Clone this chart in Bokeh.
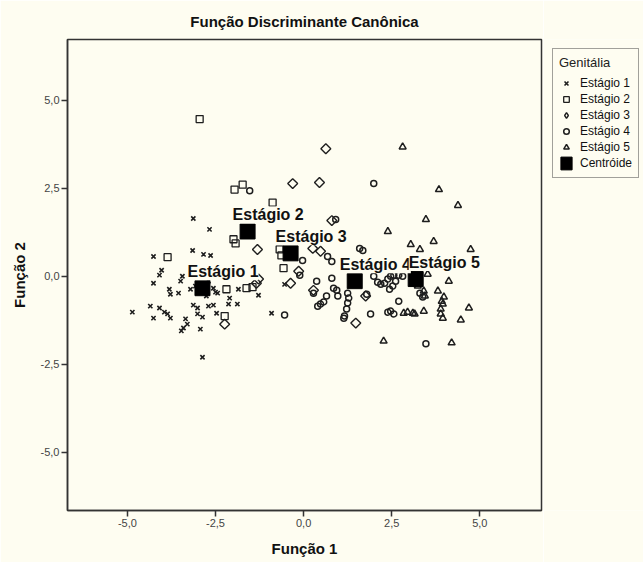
import numpy as np
from bokeh.plotting import figure
from bokeh.layouts import row
from bokeh.models import (ColumnDataSource, Legend, LegendItem, FixedTicker,
                          CustomJSTickFormatter, Range1d)
from bokeh.core.properties import value
from bokeh.embed import file_html
from bokeh.resources import INLINE

# ---------------- data ----------------
s1_x = [-3.13, -2.67, -4.26, -3.15, -2.84, -2.64, -4.03, -4.09, -3.44, -3.49, -4.26, -3.81,
        -3.78, -3.55, -3.21, -2.56, -2.50, -1.85, -2.10, -2.13, -1.88, -2.76, -4.86, -4.35,
        -4.09, -3.95, -3.86, -3.78, -4.26, -3.13, -3.01, -2.70, -2.56, -3.01, -2.87, -2.47,
        -3.35, -3.30, -3.41, -3.47, -2.93, -2.87, -1.28, -0.91, -2.44, -0.54, -3.07, -2.70]
s1_y = [1.64, 1.33, 0.56, 0.73, 0.62, 0.59, 0.17, 0.03, 0.00, -0.14, -0.20, -0.37,
        -0.51, -0.48, -0.37, -0.34, -0.45, -0.37, -0.62, -0.79, -0.79, -0.56, -1.02, -0.85,
        -0.90, -1.02, -1.07, -1.19, -1.19, -0.82, -0.90, -0.85, -0.82, -1.07, -1.16, -1.05,
        -1.21, -1.36, -1.47, -1.55, -1.50, -2.30, -0.54, -1.05, -0.48, -0.23, -0.28, -0.14]

s2_x = [-2.95, -1.96, -1.73, -1.99, -1.93, -3.86, -2.19, -1.62, -2.24, -0.88, -0.63, -0.57, -1.45, -0.68]
s2_y = [4.46, 2.46, 2.60, 1.05, 0.93, 0.54, -0.37, -0.34, -1.13, 2.09, 0.59, 0.23, -0.31, 0.76]

s3_x = [0.63, -0.31, 0.45, -1.31, 0.26, 0.48, -0.14, -1.34, -1.28, -0.37, -2.24, 1.48, 1.76, 0.80, 0.28]
s3_y = [3.62, 2.63, 2.66, 0.76, 0.79, 0.71, 0.14, -0.20, -0.08, -0.20, -1.36, -1.33, -0.56, 1.58, -0.40]

s4_x = [-1.53, 1.99, 0.91, 1.59, 1.68, -0.03, 0.68, 0.80, -0.11, 0.80, 0.37, 0.28, 0.85, 0.94,
        0.97, 0.65, 0.40, 0.48, 0.57, -0.54, 1.25, 1.28, 1.25, 1.22, 1.16, 1.79, 1.99, 2.10,
        2.19, 2.30, 2.39, 2.47, 2.56, 2.61, 2.53, 2.44, 2.70, 2.81, 1.90, 2.70, 2.47, 2.56,
        2.39, 1.14, 3.47, 3.30, 3.38]
s4_y = [2.43, 2.63, 1.61, 0.79, 0.73, 0.45, 0.56, 0.42, 0.03, -0.06, -0.14, -0.48, -0.34, -0.40,
        -0.56, -0.56, -0.85, -0.79, -0.73, -1.10, -0.48, -0.62, -0.76, -0.93, -1.13, -0.51, 0.00, -0.17,
        -0.23, -0.20, -0.08, 0.00, 0.03, -0.14, -0.28, -0.37, 0.03, 0.00, -1.07, -0.71, -0.99, -1.07,
        -1.02, -1.19, -1.92, -0.48, -0.59]

s5_x = [2.81, 3.84, 4.38, 3.47, 2.39, 3.04, 3.30, 3.69, 3.52, 4.12, 3.24, 3.41, 3.81, 3.98, 3.92,
        3.95, 3.44, 4.69, 3.89, 3.89, 3.95, 4.46, 3.41, 2.84, 2.95, 3.10, 3.15, 2.27, 4.20, 4.74]
s5_y = [3.67, 2.46, 2.01, 1.61, 1.27, 0.90, 0.76, 0.99, 0.06, -0.14, -0.28, -0.42, -0.42, -0.59, -0.71,
        -0.79, -0.56, -0.90, -0.93, -1.07, -1.19, -1.24, -0.99, -1.05, -1.02, -1.05, -1.07, -1.84, -1.89, 0.76]

groups = ["Estágio 1", "Estágio 2", "Estágio 3", "Estágio 4", "Estágio 5"]
centroid_x = [-2.87, -1.59, -0.37, 1.45, 3.18]
centroid_y = [-0.34, 1.27, 0.65, -0.14, -0.08]

ticks = [-5.0, -2.5, 0.0, 2.5, 5.0]

# ---------------- styles ----------------
BG = "#FEFDF1"
INK = "#1e1e1e"
FONT = "Liberation Sans"
label_dx = [-15, -15, -15, -15, -7]

series = [(s1_x, s1_y, dict(marker="x", size=6, line_width=1.6, line_color=INK)),
          (s2_x, s2_y, dict(marker="square", size=7, line_width=1.3, line_color=INK, fill_color=None)),
          (s3_x, s3_y, dict(marker="square", size=7, angle=np.pi / 4, line_width=1.4,
                            line_color=INK, fill_color=None)),
          (s4_x, s4_y, dict(marker="circle", size=6, line_width=1.5, line_color=INK, fill_color=None)),
          (s5_x, s5_y, dict(marker="triangle", size=7, line_width=1.5, line_color=INK, fill_color=None))]
centroid_style = dict(width=15, height=15, width_units="screen", height_units="screen",
                      fill_color="black", line_color="black")

p = figure(width=543, height=562,
           x_range=Range1d(-6.7, 6.75), y_range=Range1d(-6.65, 6.72),
           output_backend="svg", toolbar_location=None,
           min_border_left=67, min_border_right=2, min_border_top=37, min_border_bottom=52,
           background_fill_color=BG, border_fill_color=BG,
           outline_line_color="#333333", outline_line_width=1.5)

p.title.text = "Função Discriminante Canônica"
p.title.align = "center"
p.title.text_font = FONT
p.title.text_font_size = "15px"
p.title.text_font_style = "bold"
p.title.text_color = "#111111"
p.title.standoff = 20

p.xgrid.visible = False
p.ygrid.visible = False

fmt = CustomJSTickFormatter(code="return tick.toFixed(1).replace('.', ',')")
for ax, lab in ((p.xaxis[0], "Função 1"), (p.yaxis[0], "Função 2")):
    ax.ticker = FixedTicker(ticks=ticks)
    ax.formatter = fmt
    ax.axis_label = lab
    ax.axis_label_text_font = FONT
    ax.axis_label_text_font_size = "15px"
    ax.axis_label_text_font_style = "bold"
    ax.axis_label_text_color = "#111111"
    ax.major_label_text_font = FONT
    ax.major_label_text_font_size = "11px"
    ax.major_label_text_color = "#444444"
    ax.major_tick_in = 0
    ax.major_tick_out = 6
    ax.major_tick_line_width = 1.5
    ax.major_tick_line_color = "#333333"
    ax.minor_tick_line_color = None
    ax.axis_line_color = "#333333"
    ax.axis_line_width = 1.5
    ax.major_label_standoff = 2
    ax.axis_label_standoff = 10
p.yaxis[0].major_label_orientation = "horizontal"

for xs, ys, st in series:
    p.scatter(xs, ys, **st)
p.rect(centroid_x, centroid_y, **centroid_style)

lab_src = ColumnDataSource(dict(x=centroid_x, y=centroid_y, t=groups, dx=label_dx))
p.text(x="x", y="y", text="t", source=lab_src, x_offset="dx", y_offset=-8,
       text_font=value(FONT), text_font_style="bold", text_font_size="16px",
       text_color="#111111", text_baseline="bottom", text_align="left",
       background_fill_color=BG, padding=0)

# ---------------- legend panel (separate canvas to the right) ----------------
# its ranges lie away from the data, so only the legend swatches show here
pl = figure(width=100, height=562, x_range=Range1d(20, 21), y_range=Range1d(20, 21),
            output_backend="svg", toolbar_location=None,
            x_axis_location=None, y_axis_location=None,
            min_border_left=0, min_border_right=0, min_border_top=19, min_border_bottom=0,
            background_fill_color=BG, border_fill_color=BG, outline_line_color=None)
pl.xgrid.visible = False
pl.ygrid.visible = False

legend_styles = [dict(st) for _, _, st in series]
legend_styles[2].pop("angle")
legend_styles[2]["marker"] = "diamond"
leg_renderers = [pl.scatter(xs, ys, **st) for (xs, ys, _), st in zip(series, legend_styles)]
leg_renderers.append(pl.rect(centroid_x, centroid_y, **centroid_style))

legend = Legend(items=[LegendItem(label=g, renderers=[r])
                       for g, r in zip(groups + ["Centróide"], leg_renderers)],
                location="top_left", title="Genitália",
                title_text_font=FONT, title_text_font_size="13px", title_text_font_style="normal",
                title_text_color="#222222", title_standoff=5,
                label_text_font=FONT, label_text_font_size="12px", label_text_color="#111111",
                glyph_width=14, glyph_height=16, label_height=16, label_standoff=7,
                spacing=0, padding=6, margin=9,
                border_line_color="#444444", border_line_width=1,
                background_fill_color=BG, background_fill_alpha=1)
pl.add_layout(legend)

layout = row(p, pl)
open("out.html", "w").write(file_html(layout, INLINE))
